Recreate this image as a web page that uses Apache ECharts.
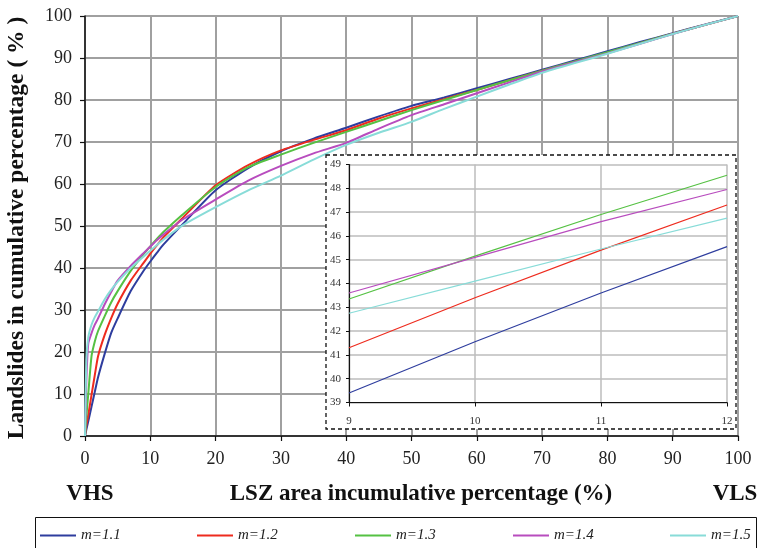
<!DOCTYPE html>
<html>
<head>
<meta charset="utf-8">
<script src="https://cdn.jsdelivr.net/npm/echarts@6/dist/echarts.min.js"></script>
<style>html,body{margin:0;padding:0;background:#fff}#c{width:760px;height:548px}</style>
</head>
<body>
<div id="c"></div>
<script>
// ---- data ----
const seriesNames = ['m=1.1', 'm=1.2', 'm=1.3', 'm=1.4', 'm=1.5'];
const mainX = [0, 0.2, 0.5, 1, 1.5, 2, 3, 4, 5, 7, 9, 10, 11, 12, 15, 20, 25, 30, 35, 40, 45, 50, 55, 60, 65, 70, 75, 80, 85, 90, 95, 100];
const m11 = [0, 1.5, 3.5, 7, 10.5, 14, 19.5, 24.5, 28, 34.5, 39.4, 41.55, 43.6, 45.55, 50.5, 58.5, 63.8, 67.8, 70.8, 73.4, 76.1, 78.6, 80.6, 82.8, 85, 87.2, 89.4, 91.6, 93.8, 95.9, 98, 100];
const m12 = [0, 2.5, 5, 9.8, 14.5, 19, 24, 28, 31.5, 37, 41.3, 43.4, 45.4, 47.3, 52, 59.7, 64.5, 68, 70.5, 72.8, 75.6, 78, 80.2, 82.4, 84.7, 87, 89.1, 91.2, 93.5, 95.8, 97.9, 100];
const m13 = [0, 4.5, 10, 19, 22.5, 25, 28.5, 31.8, 34.5, 39.3, 43.35, 45.15, 46.9, 48.55, 52.8, 59.3, 64, 67, 69.8, 72.4, 75, 77.6, 80, 82.4, 84.7, 87, 89.2, 91.4, 93.6, 95.8, 97.9, 100];
const m14 = [0, 13, 22, 24.5, 26.5, 28, 31.3, 34.3, 37, 40.5, 43.6, 45.1, 46.6, 47.95, 51.6, 56.3, 60.8, 64.3, 67.3, 69.8, 73.2, 76.4, 79, 81.6, 84.2, 86.8, 89, 91.1, 93.4, 95.7, 97.9, 100];
const m15 = [0, 18, 23.5, 26.5, 28.3, 29.7, 32.5, 34.8, 36.7, 40, 42.75, 44.1, 45.45, 46.75, 50.2, 54.5, 58.5, 62, 65.8, 69.3, 72.2, 74.8, 77.9, 80.8, 83.7, 86.5, 88.8, 91, 93.4, 95.7, 97.9, 100];
const insetX = [9, 10, 11, 12];
const inset11 = [39.4, 41.55, 43.6, 45.55];
const inset12 = [41.3, 43.4, 45.4, 47.3];
const inset13 = [43.35, 45.15, 46.9, 48.55];
const inset14 = [43.6, 45.1, 46.6, 47.95];
const inset15 = [42.75, 44.1, 45.45, 46.75];
const yTitle = 'Landslides in cumulative percentage ( % )';
const xTitle = 'LSZ area incumulative percentage (%)';
const leftLabel = 'VHS';
const rightLabel = 'VLS';

// ---- chart ----
const colors = ['#2e3d9e', '#ee2b1e', '#55c143', '#b84cbe', '#88dcd8'];
const mainVals = [m11, m12, m13, m14, m15];
const insetVals = [inset11, inset12, inset13, inset14, inset15];
const serif = 'Liberation Serif, Times New Roman, serif';

const series = [];
mainVals.forEach((vals, i) => {
  series.push({
    name: seriesNames[i], type: 'line', xAxisIndex: 0, yAxisIndex: 0,
    data: mainX.map((x, k) => [x, vals[k]]),
    showSymbol: false, symbol: 'none', smooth: 0.2,
    lineStyle: { color: colors[i], width: 2 }, itemStyle: { color: colors[i] }, z: 2
  });
});
insetVals.forEach((vals, i) => {
  series.push({
    name: seriesNames[i], type: 'line', xAxisIndex: 1, yAxisIndex: 1,
    data: insetX.map((x, k) => [x, vals[k]]),
    showSymbol: false, symbol: 'none',
    lineStyle: { color: colors[i], width: 1.2 }, itemStyle: { color: colors[i] }, z: 13
  });
});

const legendLefts = [35, 192, 350, 508, 665];
const legends = seriesNames.map((n, i) => ({
  data: [n], left: legendLefts[i], top: 523, icon: 'rect', itemWidth: 36, itemHeight: 2,
  textStyle: { fontFamily: serif, fontStyle: 'italic', fontSize: 15, color: '#222' },
  selectedMode: false
}));

const chart = echarts.init(document.getElementById('c'), null, { renderer: 'canvas' });
chart.setOption({
  animation: false,
  backgroundColor: '#fff',
  legend: legends,
  grid: [
    { left: 85, top: 16, width: 653, height: 420 },
    { left: 349, top: 164.5, width: 378, height: 238, z: 11 }
  ],
  xAxis: [
    {
      gridIndex: 0, type: 'value', min: 0, max: 100, interval: 10,
      axisLine: { lineStyle: { color: '#111', width: 1.5 } },
      axisTick: { show: true, length: 5, lineStyle: { color: '#111', width: 1.2 } },
      splitLine: { show: true, lineStyle: { color: '#a0a0a0', width: 2 } },
      axisLabel: { fontFamily: serif, fontSize: 18, color: '#222', margin: 14 }
    },
    {
      gridIndex: 1, type: 'value', min: 9, max: 12, interval: 1, z: 12,
      axisLine: { lineStyle: { color: '#111', width: 1.2 } },
      axisTick: { show: true, length: 4, lineStyle: { color: '#111' } },
      splitLine: { show: true, lineStyle: { color: '#bdbdbd', width: 1.5 } },
      axisLabel: { fontFamily: serif, fontSize: 11, color: '#333', margin: 13 }
    }
  ],
  yAxis: [
    {
      gridIndex: 0, type: 'value', min: 0, max: 100, interval: 10,
      axisLine: { show: true, lineStyle: { color: '#111', width: 1.5 } },
      axisTick: { show: true, length: 5, lineStyle: { color: '#111', width: 1.2 } },
      splitLine: { show: true, lineStyle: { color: '#a0a0a0', width: 2 } },
      axisLabel: { fontFamily: serif, fontSize: 18, color: '#222', margin: 13 }
    },
    {
      gridIndex: 1, type: 'value', min: 39, max: 49, interval: 1, z: 12,
      axisLine: { show: true, lineStyle: { color: '#111', width: 1.2 } },
      axisTick: { show: true, length: 3, lineStyle: { color: '#111' } },
      splitLine: { show: true, lineStyle: { color: '#bdbdbd', width: 1.5 } },
      axisLabel: { fontFamily: serif, fontSize: 11, color: '#333', margin: 8 }
    }
  ],
  graphic: [
    { type: 'rect', z: 10, shape: { x: 326, y: 155, width: 410, height: 274 },
      style: { fill: '#fff', stroke: '#111', lineWidth: 1.3, lineDash: [4, 3] } },
    { type: 'rect', z: 1, shape: { x: 35.5, y: 517.5, width: 721, height: 40 },
      style: { fill: 'none', stroke: '#111', lineWidth: 1 } },
    { type: 'text', x: 17, y: 228, rotation: Math.PI / 2, z: 20,
      style: { text: yTitle, fontFamily: serif, fontWeight: 'bold', fontSize: 23.5, fill: '#111',
               textAlign: 'center', textVerticalAlign: 'middle' } },
    { type: 'text', x: 90, y: 494, z: 20,
      style: { text: leftLabel, fontFamily: serif, fontWeight: 'bold', fontSize: 23, fill: '#111',
               textAlign: 'center', textVerticalAlign: 'middle' } },
    { type: 'text', x: 421, y: 494, z: 20,
      style: { text: xTitle, fontFamily: serif, fontWeight: 'bold', fontSize: 23, fill: '#111',
               textAlign: 'center', textVerticalAlign: 'middle' } },
    { type: 'text', x: 735, y: 494, z: 20,
      style: { text: rightLabel, fontFamily: serif, fontWeight: 'bold', fontSize: 23, fill: '#111',
               textAlign: 'center', textVerticalAlign: 'middle' } }
  ],
  series: series
});
</script>
</body>
</html>
